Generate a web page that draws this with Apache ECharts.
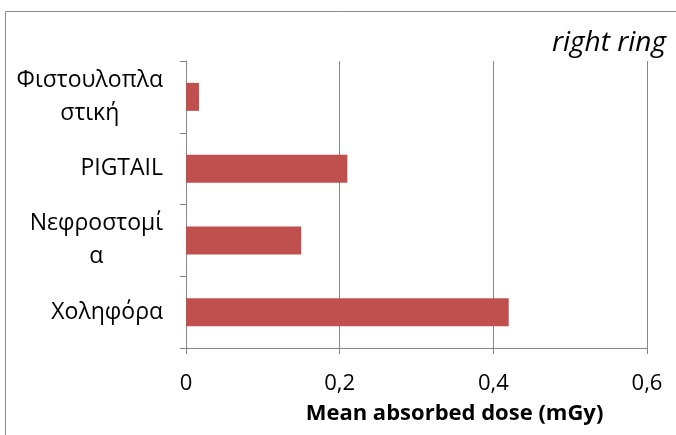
<!DOCTYPE html>
<html>
<head>
<meta charset="utf-8">
<script src="https://cdn.jsdelivr.net/npm/echarts@6/dist/echarts.min.js"></script>
<style>
  html, body { margin: 0; padding: 0; background: #fff; }
  #chart { width: 676px; height: 435px; }
</style>
</head>
<body>
<div id="chart"></div>
<script>
// Procedure categories, listed bottom to top as drawn on the category axis
const categories = ['Χοληφόρα', 'Νεφροστομία', 'PIGTAIL', 'Φιστουλοπλαστική'];
// Wrapped forms of the category names as they appear beside the axis
const categoryLines = [['Χοληφόρα'], ['Νεφροστομί', 'α'], ['PIGTAIL'], ['Φιστουλοπλα', 'στική']];
// Mean absorbed dose per procedure (mGy)
const doseValues = [0.42, 0.15, 0.21, 0.017];
// Value axis ticks
const axisMin = 0, axisMax = 0.6, axisStep = 0.2;

const FONT = '"Open Sans", "Noto Sans", sans-serif';
const chart = echarts.init(document.getElementById('chart'), null, { renderer: 'canvas' });

chart.setOption({
  animation: false,
  backgroundColor: '#ffffff',
  title: {
    text: 'right ring',
    right: 5,
    top: 24,
    textStyle: { fontFamily: FONT, fontStyle: 'italic', fontWeight: 'normal', fontSize: 28, color: '#000' }
  },
  graphic: [{
    type: 'rect',
    shape: { x: 5.5, y: 11.5, width: 700, height: 460 },
    style: { fill: 'none', stroke: '#8a8a8a', lineWidth: 1 },
    silent: true
  }],
  grid: { left: 186, top: 61, width: 461, height: 287, containLabel: false },
  xAxis: {
    type: 'value',
    min: axisMin, max: axisMax, interval: axisStep,
    name: 'Mean absorbed dose (mGy)',
    nameLocation: 'middle',
    nameGap: 55,
    nameTextStyle: { fontFamily: FONT, fontWeight: 'bold', fontSize: 22, color: '#000', padding: [0, 0, 0, 76] },
    axisLine: { show: true, lineStyle: { color: '#868686', width: 1 } },
    axisTick: { show: true, length: 6, lineStyle: { color: '#868686' } },
    axisLabel: {
      margin: 25, fontFamily: FONT, fontSize: 22, color: '#000',
      formatter: v => String(Math.round(v * 10) / 10).replace('.', ',')
    },
    splitLine: { show: true, lineStyle: { color: '#868686', width: 1 } }
  },
  yAxis: {
    type: 'category',
    data: categories,
    axisLine: { show: true, lineStyle: { color: '#868686', width: 1 } },
    axisTick: { show: true, length: 6, lineStyle: { color: '#868686' } },
    axisLabel: {
      margin: 23, align: 'right', color: '#000',
      fontFamily: FONT, fontSize: 23, lineHeight: 33,
      formatter: (v, i) => categoryLines[i].map(s => '{c|' + s + '}').join('\n'),
      rich: { c: { align: 'center', fontFamily: FONT, fontSize: 23, lineHeight: 33, color: '#000' } }
    },
    splitLine: { show: false }
  },
  series: [{
    type: 'bar',
    data: doseValues,
    barWidth: 28,
    itemStyle: { color: '#C0504D' },
    silent: true
  }]
});
</script>
</body>
</html>
